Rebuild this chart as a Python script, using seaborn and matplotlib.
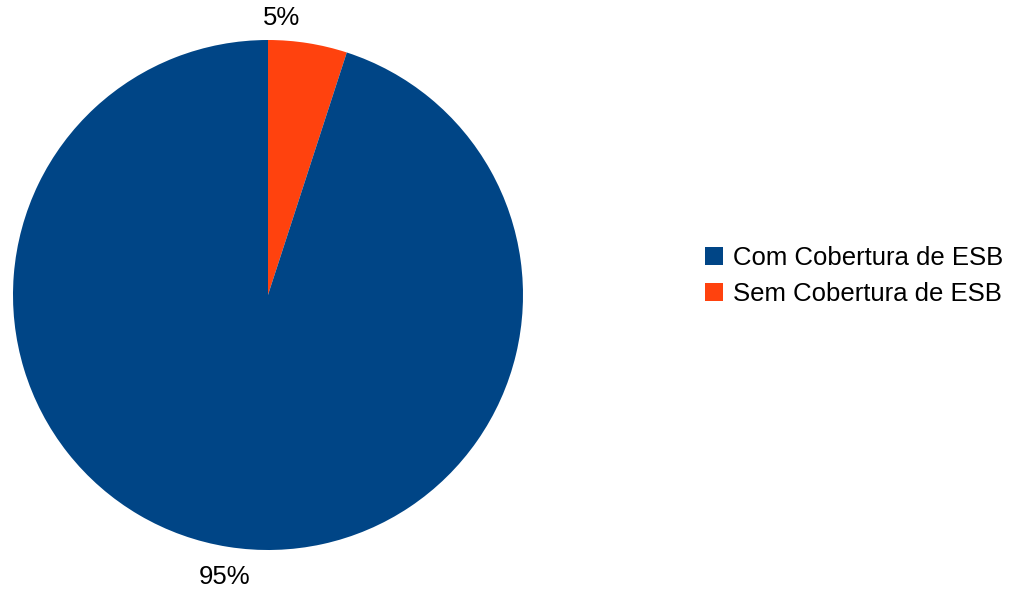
import matplotlib
matplotlib.use("Agg")
import matplotlib.pyplot as plt
import seaborn as sns

# data
categories = ["Com Cobertura de ESB", "Sem Cobertura de ESB"]
shares = [95, 5]
colors = ["#004586", "#ff420e"]

sns.set_theme(style="white")
plt.rcParams["font.family"] = ["Liberation Sans", "DejaVu Sans"]
plt.rcParams["text.color"] = "black"

fig = plt.figure(figsize=(10.14, 5.91), dpi=100)
ax = fig.add_axes([13 / 1014, 41 / 591, 510 / 1014, 510 / 591])

# LibreOffice style: start at 12 o'clock, clockwise, small slice first
order = [1, 0]
wedges, _ = ax.pie([shares[i] for i in order],
                   colors=[colors[i] for i in order],
                   startangle=90, counterclock=False,
                   wedgeprops=dict(linewidth=0, antialiased=True))
ax.set_xlim(-1, 1)
ax.set_ylim(-1, 1)
ax.set_aspect("equal")

# percentage labels outside the pie
label_xy = {1: (0.055, 1.087), 0: (-0.169, -1.106)}
for i in order:
    x, y = label_xy[i]
    ax.text(x, y, f"{shares[i]}%", ha="center", va="center",
            fontsize=18.5, color="black", clip_on=False)

handles = [wedges[order.index(i)] for i in range(len(categories))]
fig.legend(handles, categories, loc="center left",
           bbox_to_anchor=(705 / 1014, 1 - 276 / 591),
           frameon=False, fontsize=18.5, handlelength=0.7, handleheight=0.7,
           handletextpad=0.4, labelspacing=0.45, borderpad=0, borderaxespad=0,
           labelcolor="black")

fig.savefig("out.png", dpi=100)
